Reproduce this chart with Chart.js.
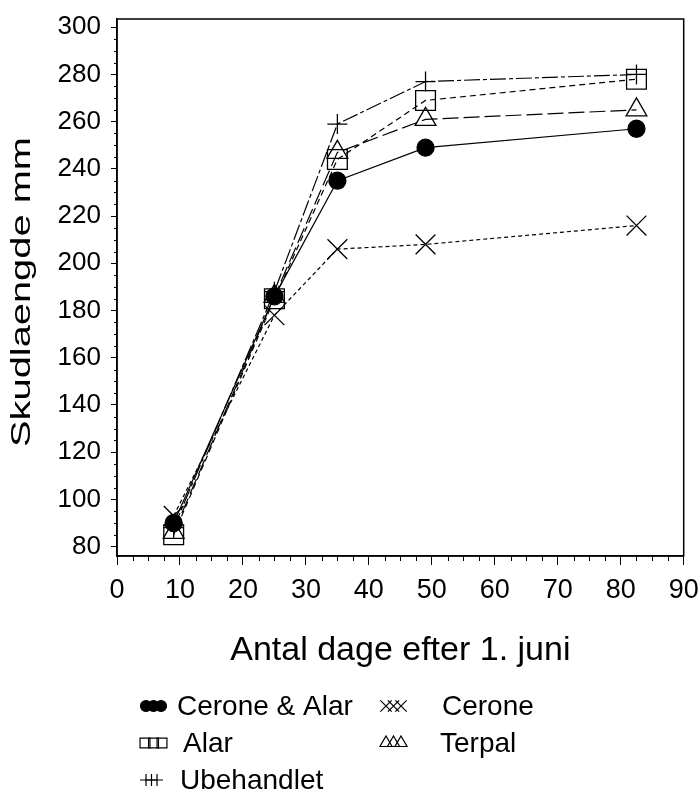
<!DOCTYPE html>
<html>
<head>
<meta charset="utf-8">
<script src="https://cdn.jsdelivr.net/npm/chart.js@4/dist/chart.umd.min.js"></script>
<style>
  html, body { margin: 0; padding: 0; background: #fff; }
  #wrap { width: 699px; height: 798px; }
</style>
</head>
<body>
<div id="wrap"><canvas id="chart"></canvas></div>
<script>
// days after 1 June
const days = [9, 25, 35, 49, 82.5];

// shoot length (mm) per treatment
const ceroneAlar = [90, 186, 235, 249, 257];
const alar = [85, 185, 244, 269, 278];
const cerone = [93, 178, 206, 208, 216];
const terpal = [86, 186, 247, 261, 265];
const ubehandlet = [88, 188, 259, 277, 280];

const xTicks = [0, 10, 20, 30, 40, 50, 60, 70, 80, 90];
const yTicks = [80, 100, 120, 140, 160, 180, 200, 220, 240, 260, 280, 300];

const xTitle = 'Antal dage efter 1. juni';
const yTitle = 'Skudlaengde mm';

const sans = "'Liberation Sans', Arial, sans-serif";

function pts(vals) {
  return days.map((d, i) => ({ x: d, y: vals[i] }));
}

const series = [
  { label: 'Cerone & Alar', data: ceroneAlar, style: 'circle', r: 8.5, fill: true, dash: [] },
  { label: 'Alar', data: alar, style: 'rect', r: 14, fill: false, dash: [6, 4] },
  { label: 'Ubehandlet', data: ubehandlet, style: 'cross', r: 10, fill: false, dash: [16, 3, 4, 3] },
  { label: 'Terpal', data: terpal, style: 'triangle', r: 12, fill: false, dash: [16, 5] },
  { label: 'Cerone', data: cerone, style: 'crossRot', r: 14, fill: false, dash: [4, 3] }
];

// legend placement (two columns like the original)
const legendItems = [
  { label: 'Cerone & Alar', style: 'circle', fill: true, mx: 153.5, tx: 177, base: 715, r: 5.5, step: 7.5 },
  { label: 'Cerone', style: 'crossRot', fill: false, mx: 393.5, tx: 442, base: 715, r: 8, step: 7.5 },
  { label: 'Alar', style: 'rect', fill: false, mx: 153.5, tx: 183, base: 752, r: 7, step: 8.5 },
  { label: 'Terpal', style: 'triangle', fill: false, mx: 393.5, tx: 440, base: 752, r: 7, step: 7.5 },
  { label: 'Ubehandlet', style: 'cross', fill: false, mx: 151.5, tx: 180, base: 789, r: 6, step: 5.5 }
];

const extras = {
  id: 'extras',
  afterDraw(chart) {
    const ctx = chart.ctx, a = chart.chartArea;
    const xs = chart.scales.x, ys = chart.scales.y;
    ctx.save();
    ctx.strokeStyle = '#000';
    ctx.fillStyle = '#000';

    // box round the plot
    ctx.lineWidth = 1.5;
    ctx.strokeRect(a.left, a.top, a.right - a.left, a.bottom - a.top);

    // minor ticks
    ctx.lineWidth = 1;
    ctx.beginPath();
    for (let v = 80; v <= 300; v += 5) {
      if (v % 20) {
        const y = Math.round(ys.getPixelForValue(v)) + 0.5;
        ctx.moveTo(a.left, y); ctx.lineTo(a.left - 3, y);
      }
    }
    for (let v = 0; v <= 90; v += 2.5) {
      if (v % 10) {
        const x = Math.round(xs.getPixelForValue(v)) + 0.5;
        ctx.moveTo(x, a.bottom); ctx.lineTo(x, a.bottom + 5);
      }
    }
    ctx.stroke();

    // x title
    ctx.font = '34px ' + sans;
    ctx.textAlign = 'center';
    ctx.textBaseline = 'alphabetic';
    ctx.fillText(xTitle, (a.left + a.right) / 2, 660);

    // y title, stretched along the text like the original
    ctx.save();
    ctx.font = '28px ' + sans;
    const w = ctx.measureText(yTitle).width;
    ctx.translate(30, 292);
    ctx.rotate(-Math.PI / 2);
    ctx.scale(310 / w, 1);
    ctx.fillText(yTitle, 0, 0);
    ctx.restore();

    // legend
    ctx.font = '28px ' + sans;
    ctx.textAlign = 'left';
    legendItems.forEach(it => {
      ctx.fillStyle = '#000';
      ctx.fillText(it.label, it.tx, it.base);
      const cy = it.base - 9;
      ctx.lineWidth = 1.2;
      ctx.fillStyle = it.fill ? '#000' : 'rgba(0,0,0,0)';
      [-1, 0, 1].forEach(k => {
        Chart.helpers.drawPoint(ctx, {
          pointStyle: it.style, radius: it.r, rotation: 0, borderWidth: 1.2
        }, it.mx + k * it.step, cy);
      });
    });
    ctx.restore();
  }
};

new Chart(document.getElementById('chart'), {
  type: 'line',
  data: {
    datasets: series.map(s => ({
      label: s.label,
      data: pts(s.data),
      borderColor: '#000',
      borderWidth: 1.2,
      borderDash: s.dash,
      pointStyle: s.style,
      pointRadius: s.r,
      pointBorderWidth: 1.3,
      pointBorderColor: '#000',
      pointBackgroundColor: s.fill ? '#000' : 'rgba(0,0,0,0)',
      tension: 0,
      fill: false
    }))
  },
  options: {
    responsive: true,
    maintainAspectRatio: false,
    animation: false,
    layout: { padding: { top: 19, right: 15, left: 0, bottom: 0 } },
    plugins: { legend: { display: false }, tooltip: { enabled: false } },
    scales: {
      x: {
        type: 'linear',
        min: 0,
        max: 90,
        afterBuildTicks: s => { s.ticks = xTicks.map(v => ({ value: v })); },
        afterFit: s => { s.height = 242; s.paddingLeft = 0; s.paddingRight = 0; },
        grid: { drawOnChartArea: false, tickLength: 9, color: '#000', tickWidth: 1 },
        border: { color: '#000', width: 1.5 },
        ticks: { color: '#000', font: { family: sans, size: 27 }, padding: 9, maxRotation: 0, autoSkip: false }
      },
      y: {
        type: 'linear',
        min: 76,
        max: 303.5,
        afterBuildTicks: s => { s.ticks = yTicks.map(v => ({ value: v })); },
        afterFit: s => { s.width = 117; s.paddingTop = 0; s.paddingBottom = 0; },
        grid: { drawOnChartArea: false, tickLength: 6, color: '#000', tickWidth: 1 },
        border: { color: '#000', width: 1.5 },
        ticks: { color: '#000', font: { family: sans, size: 26 }, padding: 10 }
      }
    }
  },
  plugins: [extras]
});
</script>
</body>
</html>
